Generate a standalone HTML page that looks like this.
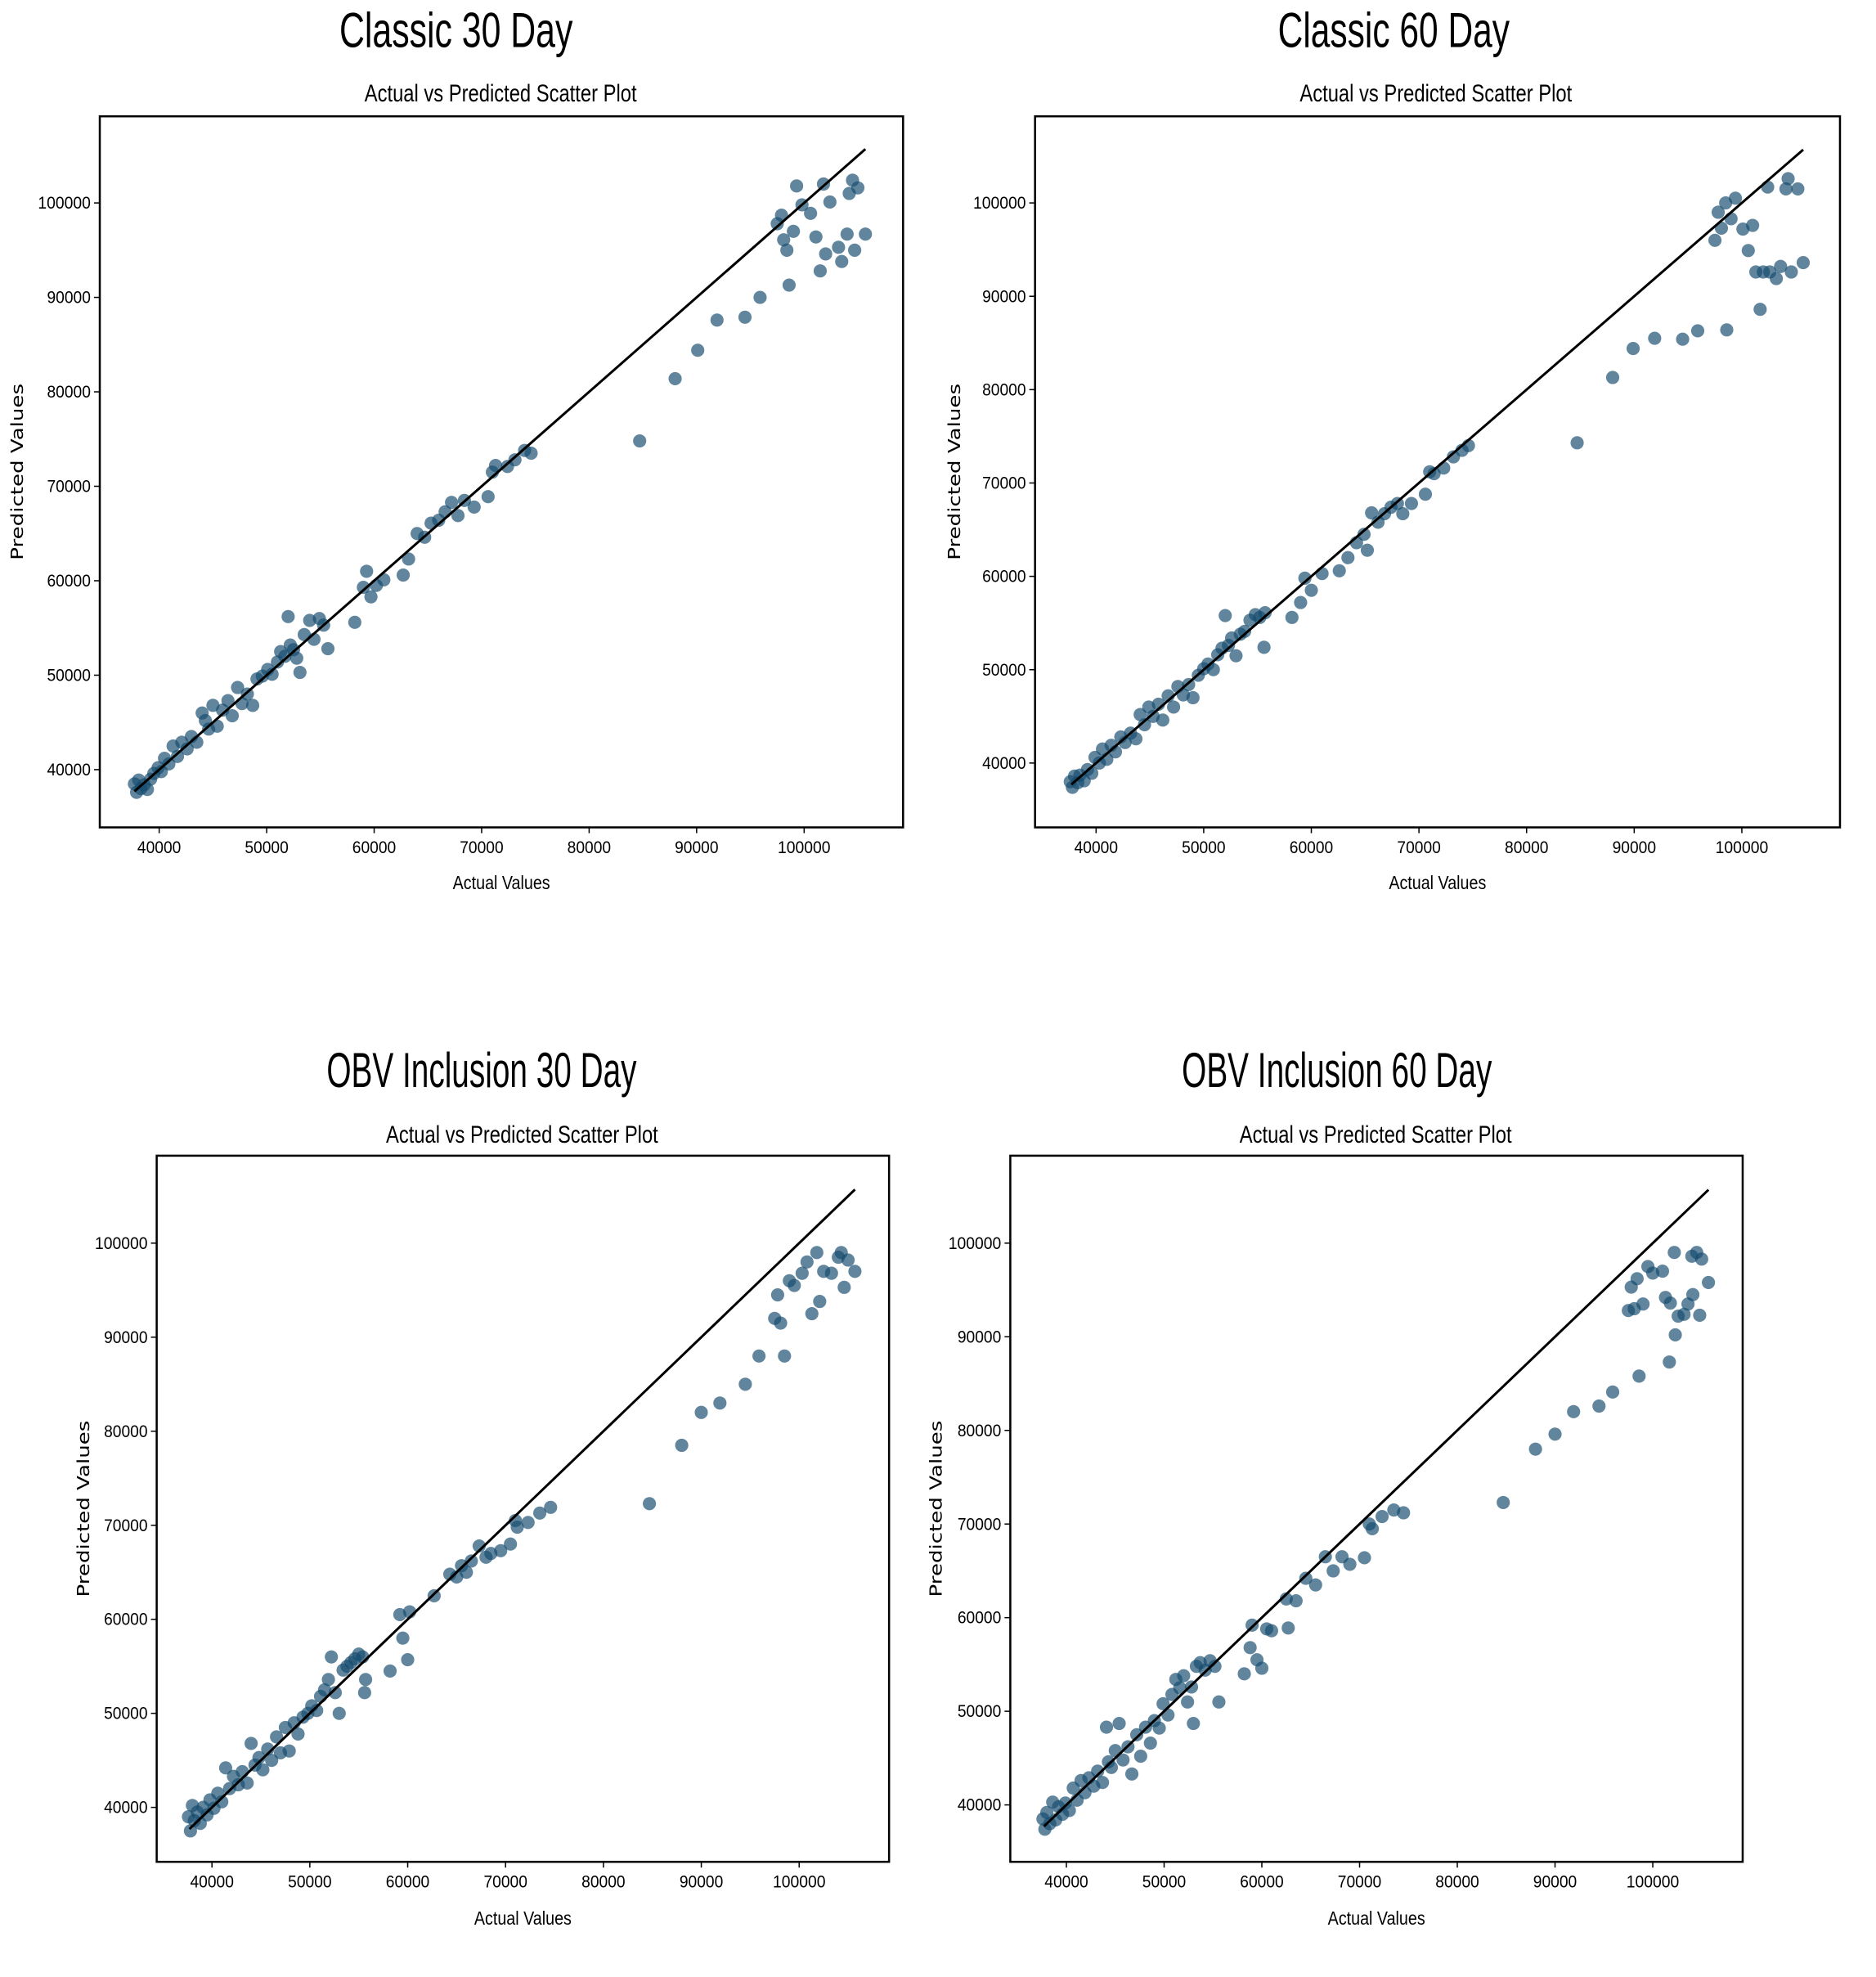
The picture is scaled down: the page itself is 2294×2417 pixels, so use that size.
<!DOCTYPE html>
<html><head><meta charset="utf-8">
<style>
html,body{margin:0;padding:0;background:#fff;}
svg{display:block;}
.ttl{font-family:"Liberation Sans Narrow","Liberation Sans",sans-serif;font-size:60px;fill:#000;}
.sub{font-family:"Liberation Sans Narrow","Liberation Sans",sans-serif;font-size:29px;fill:#000;}
.tick{font-family:"Liberation Sans Narrow","Liberation Sans",sans-serif;font-size:21px;fill:#000;}
.ylab{font-family:"DejaVu Sans","Liberation Sans",sans-serif;font-size:20px;fill:#000;}
.xlab{font-family:"Liberation Sans Narrow","Liberation Sans",sans-serif;font-size:23px;fill:#000;}
</style></head>
<body>
<svg width="2294" height="2417" viewBox="0 0 2294 2417" xmlns="http://www.w3.org/2000/svg"><g id="fig" transform="scale(1.0085)"></g></svg>
<script>
// Shared tick values (thousands)
const xTicks = [40,50,60,70,80,90,100];
const yTicks = [40,50,60,70,80,90,100];
const tickLabels = ["40000","50000","60000","70000","80000","90000","100000"];
const lineRange = [37.7,105.7];

// Classic 30 Day
const c30Actual = [37.7,37.9,38.1,38.3,38.6,38.9,39.2,39.5,39.9,40.2,40.5,40.9,41.3,41.7,42.1,42.6,43.0,43.5,44.0,44.3,44.6,45.0,45.4,45.9,46.4,46.8,47.3,47.7,48.2,48.7,49.1,49.6,50.1,50.5,51.0,51.3,51.7,52.0,52.2,52.5,52.8,53.1,53.5,54.0,54.4,54.9,55.3,55.7,58.2,59.0,59.3,59.7,60.2,60.9,62.7,63.2,64.0,64.7,65.3,66.0,66.6,67.2,67.8,68.4,69.3,70.6,71.0,71.3,72.4,73.1,74.0,74.6,84.7,88.0,90.1,91.9,94.5,95.9,97.5,97.9,98.1,98.4,98.6,99.0,99.3,99.8,100.6,101.1,101.5,101.8,102.0,102.4,103.2,103.5,104.0,104.2,104.5,104.7,105.0,105.7];
const c30Pred = [38.5,37.6,38.9,38.0,38.4,37.9,39.0,39.6,40.2,39.8,41.2,40.6,42.5,41.4,42.9,42.2,43.5,42.9,46.0,45.2,44.3,46.8,44.6,46.3,47.3,45.7,48.7,47.0,48.0,46.8,49.6,49.9,50.6,50.1,51.4,52.5,52.0,56.2,53.2,52.7,51.8,50.3,54.3,55.8,53.8,56.0,55.3,52.8,55.6,59.3,61.0,58.3,59.5,60.1,60.6,62.3,65.0,64.6,66.1,66.4,67.3,68.3,66.9,68.5,67.8,68.9,71.5,72.2,72.1,72.8,73.8,73.5,74.8,81.4,84.4,87.6,87.9,90.0,97.8,98.7,96.1,95.0,91.3,97.0,101.8,99.8,98.9,96.4,92.8,102.0,94.6,100.1,95.3,93.8,96.7,101.0,102.4,95.0,101.6,96.7];

// Classic 60 Day
const c60Actual = [37.6,37.8,38.0,38.3,38.5,38.9,39.2,39.6,39.9,40.3,40.6,41.0,41.4,41.8,42.3,42.7,43.2,43.7,44.1,44.5,44.9,45.3,45.8,46.2,46.7,47.2,47.6,48.1,48.6,49.0,49.5,50.0,50.4,50.9,51.3,51.7,52.0,52.3,52.6,53.0,53.4,53.8,54.3,54.8,55.2,55.7,55.6,58.2,59.0,59.4,60.0,61.0,62.6,63.4,64.2,64.9,65.2,65.6,66.2,66.8,67.4,68.0,68.5,69.3,70.6,71.0,71.4,72.3,73.2,74.0,74.6,84.7,88.0,89.9,91.9,94.5,95.9,98.6,97.5,97.8,98.1,98.5,99.0,99.4,100.1,100.6,101.0,101.3,101.7,102.0,102.4,102.6,103.2,103.6,104.1,104.3,104.6,105.2,105.7];
const c60Pred = [38.0,37.4,38.6,37.9,38.7,38.1,39.3,38.9,40.6,40.0,41.5,40.4,41.9,41.2,42.8,42.2,43.2,42.6,45.2,44.1,46.0,45.0,46.3,44.6,47.2,46.0,48.2,47.3,48.4,47.0,49.4,50.1,50.6,50.0,51.6,52.3,55.8,52.6,53.4,51.5,53.8,54.1,55.3,55.9,55.6,56.1,52.4,55.6,57.2,59.8,58.5,60.3,60.6,62.0,63.6,64.5,62.8,66.8,65.8,66.7,67.4,67.8,66.7,67.8,68.8,71.2,71.0,71.6,72.8,73.5,74.0,74.3,81.3,84.4,85.5,85.4,86.3,86.4,96.0,99.0,97.3,100.0,98.3,100.5,97.2,94.9,97.6,92.6,88.6,92.6,101.7,92.6,91.9,93.2,101.5,102.6,92.6,101.5,93.6];

// OBV Inclusion 30 Day
const o30Actual = [37.6,37.8,38.0,38.2,38.5,38.8,39.1,39.5,39.8,40.2,40.6,41.0,41.4,41.8,42.2,42.7,43.1,43.6,44.0,44.4,44.8,45.2,45.7,46.1,46.6,47.0,47.5,47.9,48.4,48.8,49.3,49.8,50.2,50.7,51.1,51.5,51.9,52.2,52.6,53.0,53.4,53.8,54.2,54.6,55.0,55.4,55.6,55.7,58.2,59.2,59.5,60.0,60.2,62.7,64.3,65.0,65.5,66.0,66.5,67.3,68.0,68.5,69.5,70.5,71.0,71.2,72.3,73.5,74.6,84.7,88.0,90.0,91.9,94.5,95.9,97.5,97.8,98.1,98.5,99.0,99.5,100.3,100.8,101.3,101.8,102.1,102.5,103.3,104.0,104.3,104.6,105.0,105.7];
const o30Pred = [39.0,37.5,40.2,38.6,39.5,38.3,40.0,39.2,40.8,39.9,41.5,40.6,44.2,42.0,43.3,42.4,43.8,42.6,46.8,44.5,45.3,44.0,46.2,45.0,47.5,45.8,48.5,46.0,49.0,47.8,49.6,50.0,50.8,50.3,51.8,52.5,53.6,56.0,52.2,50.0,54.6,55.0,55.4,55.8,56.3,56.0,52.2,53.6,54.5,60.5,58.0,55.7,60.8,62.5,64.8,64.5,65.7,65.0,66.2,67.8,66.6,67.0,67.3,68.0,70.5,69.8,70.3,71.3,71.9,72.3,78.5,82.0,83.0,85.0,88.0,92.0,94.5,91.5,88.0,96.0,95.5,96.8,98.0,92.5,99.0,93.8,97.0,96.8,98.5,99.0,95.3,98.2,97.0];

// OBV Inclusion 60 Day
const o60Actual = [37.6,37.8,38.0,38.3,38.6,38.9,39.2,39.6,39.9,40.3,40.7,41.1,41.5,41.9,42.3,42.8,43.2,43.7,44.1,44.3,44.6,45.0,45.4,45.8,46.3,46.7,47.2,47.6,48.1,48.6,49.0,49.5,49.9,50.4,50.8,51.2,51.6,52.0,52.4,52.8,53.0,53.3,53.7,54.2,54.7,55.2,55.6,58.2,58.8,59.0,59.5,60.0,60.5,61.0,62.5,62.7,63.5,64.5,65.5,66.5,67.3,68.2,69.0,70.5,71.0,71.3,72.3,73.5,74.5,84.7,88.0,90.0,91.9,94.5,95.9,98.6,97.5,97.8,98.1,98.4,99.0,99.5,100.0,101.0,101.3,101.7,101.8,102.2,102.3,102.6,103.2,103.6,104.0,104.1,104.5,104.8,105.0,105.7];
const o60Pred = [38.5,37.4,39.2,38.0,40.3,38.4,39.8,39.0,40.2,39.4,41.8,40.5,42.6,41.3,42.9,42.0,43.6,42.4,48.3,44.6,44.0,45.8,48.7,44.8,46.2,43.3,47.5,45.2,48.3,46.6,49.0,48.2,50.8,49.6,51.8,53.4,52.5,53.8,51.0,52.6,48.7,54.8,55.2,54.4,55.4,54.8,51.0,54.0,56.8,59.2,55.5,54.6,58.8,58.6,62.0,58.9,61.8,64.2,63.5,66.5,65.0,66.5,65.7,66.4,70.0,69.5,70.8,71.5,71.2,72.3,78.0,79.6,82.0,82.6,84.1,85.8,92.8,95.3,93.0,96.2,93.5,97.5,96.8,97.0,94.2,87.3,93.6,99.0,90.2,92.2,92.4,93.5,98.6,94.5,99.0,92.3,98.3,95.8];

const NS = "http://www.w3.org/2000/svg";
const fig = document.getElementById('fig');
function el(tag, attrs, parent){
  const e = document.createElementNS(NS, tag);
  for (const k in attrs) e.setAttribute(k, attrs[k]);
  (parent||fig).appendChild(e);
  return e;
}

const panels = [
  {key:'classic-30', title:'Classic 30 Day', tw:283, ax:c30Actual, py:c30Pred, L:121,R:1095,T:141,B:1003, x40:193,x100:975, y100:246,y40:933, tX:553,tY:57, sX:607,sY:123, ylX:28, xlY:1078},
  {key:'classic-60', title:'Classic 60 Day', tw:281, ax:c60Actual, py:c60Pred, L:1255,R:2231,T:141,B:1003, x40:1329,x100:2112, y100:246,y40:925, tX:1690,tY:57, sX:1741,sY:123, ylX:1164, xlY:1078},
  {key:'obv-30', title:'OBV Inclusion 30 Day', tw:376, ax:o30Actual, py:o30Pred, L:190,R:1078,T:1401,B:2257, x40:257,x100:969, y100:1507,y40:2191, tX:584,tY:1318, sX:633,sY:1385, ylX:108, xlY:2333},
  {key:'obv-60', title:'OBV Inclusion 60 Day', tw:376, ax:o60Actual, py:o60Pred, L:1225,R:2113,T:1401,B:2257, x40:1293,x100:2004, y100:1507,y40:2188, tX:1621,tY:1318, sX:1668,sY:1385, ylX:1142, xlY:2333}
];

panels.forEach(p => {
  const g = el('g', {});
  
  
  const xs = v => p.x40 + (v - 40) * (p.x100 - p.x40) / 60;
  const ys = v => p.y40 - (v - 40) * (p.y40 - p.y100) / 60;

  const t = el('text', {x:p.tX, y:p.tY, 'text-anchor':'middle', class:'ttl', textLength:p.tw, lengthAdjust:'spacingAndGlyphs'}, g);
  t.textContent = p.title;
  
  
  const s = el('text', {x:p.sX, y:p.sY, 'text-anchor':'middle', class:'sub', textLength:330, lengthAdjust:'spacingAndGlyphs'}, g);
  s.textContent = 'Actual vs Predicted Scatter Plot';
  
  

  const pts = el('g', {}, g);
  
  
  for (let i = 0; i < p.ax.length; i++) {
    const c = el('circle', {cx:xs(p.ax[i]).toFixed(1), cy:ys(p.py[i]).toFixed(1), r:8, fill:'rgb(20,75,110)', 'fill-opacity':0.68}, pts);
    
    
  }
  const ln = el('line', {x1:xs(lineRange[0]), y1:ys(lineRange[0]), x2:xs(lineRange[1]), y2:ys(lineRange[1]), stroke:'#000', 'stroke-width':3}, g);
  
  

  const fr = el('rect', {x:p.L, y:p.T, width:p.R-p.L, height:p.B-p.T, fill:'none', stroke:'#000', 'stroke-width':2.5}, g);
  
  

  xTicks.forEach((v, i) => {
    const x = xs(v);
    el('line', {x1:x, y1:p.B, x2:x, y2:p.B+7, stroke:'#000', 'stroke-width':1.5}, g);
    const tl = el('text', {x:x, y:p.B+31, 'text-anchor':'middle', class:'tick', textLength:tickLabels[i].length===6?64:53, lengthAdjust:'spacingAndGlyphs'}, g);
    tl.textContent = tickLabels[i];
    
    
  });
  yTicks.forEach((v, i) => {
    const y = ys(v);
    el('line', {x1:p.L-7, y1:y, x2:p.L, y2:y, stroke:'#000', 'stroke-width':1.5}, g);
    const tl = el('text', {x:p.L-11, y:y+7, 'text-anchor':'end', class:'tick', textLength:tickLabels[i].length===6?64:53, lengthAdjust:'spacingAndGlyphs'}, g);
    tl.textContent = tickLabels[i];
    
    
  });

  const xl = el('text', {x:(p.L+p.R)/2, y:p.xlY, 'text-anchor':'middle', class:'xlab', textLength:118, lengthAdjust:'spacingAndGlyphs'}, g);
  xl.textContent = 'Actual Values';
  
  
  const cy = (p.T + p.B) / 2;
  const yl = el('text', {x:p.ylX, y:cy, 'text-anchor':'middle', class:'ylab', textLength:214, lengthAdjust:'spacingAndGlyphs', transform:'rotate(-90 '+p.ylX+' '+cy+')'}, g);
  yl.textContent = 'Predicted Values';
  
  
});
</script>
</body></html>
